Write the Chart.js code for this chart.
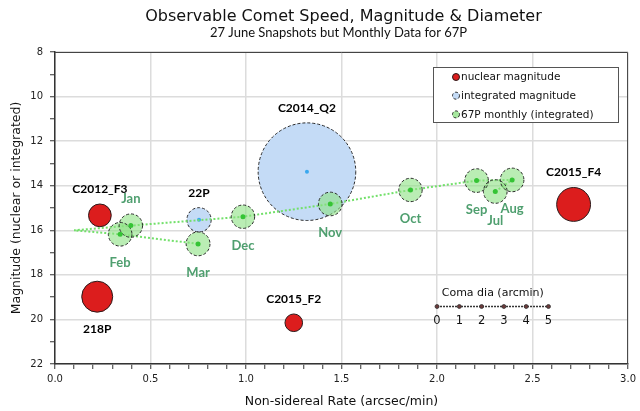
<!DOCTYPE html>
<html>
<head>
<meta charset="utf-8">
<script src="https://cdn.jsdelivr.net/npm/chart.js@4.4.1/dist/chart.umd.min.js"></script>
<style>
  html, body { margin: 0; padding: 0; background: #fff; }
  #wrap { width: 640px; height: 411px; }
</style>
</head>
<body>
<div id="wrap"><canvas id="chart" width="640" height="411"></canvas></div>
<script>
const chartTitle = 'Observable Comet Speed, Magnitude & Diameter';
const chartSubtitle = '27 June Snapshots but Monthly Data for 67P';
const xTitle = 'Non-sidereal Rate (arcsec/min)';
const yTitle = 'Magnitude (nuclear or integrated)';
const legendLabels = ['nuclear magnitude', 'integrated magnitude', '67P monthly (integrated)'];

// nuclear magnitude comets (red)
const nucNames = ['C2012_F3', '218P', 'C2015_F2', 'C2015_F4'];
const nucRate = [0.235, 0.221, 1.25, 2.715];
const nucMag = [15.33, 18.98, 20.15, 14.84];
const nucSize = [1.02, 1.39, 0.79, 1.52];
const nucLabelPos = ['above', 'below', 'above', 'above'];

// integrated magnitude comets (blue), size = coma dia in arcmin
const intNames = ['22P', 'C2014_Q2'];
const intRate = [0.754, 1.319];
const intMag = [15.53, 13.37];
const intComa = [1.09, 4.38];
const intLabelPos = ['above', 'above'];

// 67P month by month
const months = ['Jul', 'Aug', 'Sep', 'Oct', 'Nov', 'Dec', 'Jan', 'Feb', 'Mar'];
const p67Rate = [2.305, 2.393, 2.207, 1.861, 1.441, 0.984, 0.397, 0.341, 0.749];
const p67Mag = [14.26, 13.74, 13.77, 14.19, 14.82, 15.39, 15.79, 16.18, 16.61];
const p67Coma = [1.06, 1.06, 1.06, 1.05, 1.06, 1.05, 1.05, 1.06, 1.07];
const monthLabelPos = ['below', 'below', 'below', 'below', 'below', 'below', 'above', 'below', 'below'];

// dotted track of 67P (goes out to 0.1 between Jan and Feb)
const trackRate = [2.305, 2.393, 2.207, 1.861, 1.441, 0.984, 0.397, 0.10, 0.341, 0.749];
const trackMag = [14.26, 13.74, 13.77, 14.19, 14.82, 15.39, 15.79, 16.0, 16.18, 16.61];

// coma diameter key
const comaTicks = [0, 1, 2, 3, 4, 5];
const comaKeyAt = {x: 2.0, y: 19.42};

const toPts = (xs, ys, ds) => xs.map((x, i) => ({x: x, y: ys[i], d: ds ? ds[i] : 0}));

// one arcmin of coma = one magnitude step on the y axis
function comaPx(chart) {
  const y = chart.scales.y;
  const v = Math.abs(y.getPixelForValue(9) - y.getPixelForValue(8));
  return isFinite(v) ? v : 0;
}

function dashedCircle(ctx, x, y, r) {
  ctx.beginPath();
  ctx.setLineDash([3, 2]);
  ctx.lineWidth = 1;
  ctx.strokeStyle = '#2a2a2a';
  ctx.arc(x, y, r, 0, Math.PI * 2);
  ctx.stroke();
  ctx.setLineDash([]);
}

const bubbleDecor = {
  id: 'bubbleDecor',
  afterDatasetDraw(chart, args) {
    const ds = chart.data.datasets[args.index];
    if (!ds.dashed) return;
    const ctx = chart.ctx;
    ctx.save();
    args.meta.data.forEach(el => dashedCircle(ctx, el.x, el.y, el.options.radius));
    args.meta.data.forEach(el => {
      ctx.beginPath();
      ctx.fillStyle = ds.dot;
      ctx.arc(el.x, el.y, ds.dotR, 0, Math.PI * 2);
      ctx.fill();
    });
    ctx.restore();
  },
  afterDatasetsDraw(chart) {
    const ctx = chart.ctx;
    ctx.save();
    ctx.textAlign = 'center';
    ctx.textBaseline = 'middle';
    chart.data.datasets.forEach((ds, i) => {
      if (!ds.names) return;
      const meta = chart.getDatasetMeta(i);
      ctx.fillStyle = ds.nameColor;
      ctx.font = 'bold ' + ds.nameSize + 'px Lato';
      meta.data.forEach((el, j) => {
        const r = el.options.radius;
        const y = ds.namePos[j] === 'above' ? el.y - r - 15 : el.y + r + 17;
        ctx.fillText(ds.names[j], el.x, y);
      });
    });
    ctx.restore();
  }
};

const frameAndKeys = {
  id: 'frameAndKeys',
  afterDraw(chart) {
    const ctx = chart.ctx;
    const a = chart.chartArea;
    const cx = (a.left + a.right) / 2;
    ctx.save();

    // titles
    ctx.fillStyle = '#111';
    ctx.textAlign = 'center';
    ctx.textBaseline = 'middle';
    ctx.font = '16px "DejaVu Sans"';
    ctx.fillText(chartTitle, cx + 2, 17);
    ctx.font = '13px Lato';
    ctx.fillText(chartSubtitle, cx - 3, 33);

    // top and right frame
    ctx.strokeStyle = '#444';
    ctx.lineWidth = 1;
    ctx.beginPath();
    ctx.moveTo(a.left, a.top + 0.5);
    ctx.lineTo(a.right - 0.5, a.top + 0.5);
    ctx.lineTo(a.right - 0.5, a.bottom);
    ctx.stroke();

    // legend box
    const lx = 433, ly = 67, lw = 185, lh = 55;
    ctx.fillStyle = '#fff';
    ctx.fillRect(lx, ly, lw, lh);
    ctx.strokeStyle = '#555';
    ctx.strokeRect(lx + 0.5, ly + 0.5, lw, lh);
    const swatch = ['#dc1d1d', '#c4dbf6', '#a6e89e'];
    ctx.font = '10.5px "DejaVu Sans"';
    ctx.textAlign = 'left';
    legendLabels.forEach((t, i) => {
      const y = ly + 10 + i * 18.7;
      ctx.beginPath();
      ctx.fillStyle = swatch[i];
      ctx.arc(lx + 23, y, 3.5, 0, Math.PI * 2);
      ctx.fill();
      if (i === 0) {
        ctx.strokeStyle = '#2b1a1a';
        ctx.stroke();
      } else {
        dashedCircle(ctx, lx + 23, y, 3.5);
      }
      ctx.fillStyle = '#111';
      ctx.fillText(t, lx + 28, y + 0.5);
    });

    // coma diameter key
    const step = comaPx(chart);
    const kx = chart.scales.x.getPixelForValue(comaKeyAt.x);
    const ky = chart.scales.y.getPixelForValue(comaKeyAt.y);
    const kEnd = kx + step * comaTicks[comaTicks.length - 1];
    ctx.strokeStyle = '#333';
    ctx.lineWidth = 1.5;
    ctx.setLineDash([2, 1]);
    ctx.beginPath();
    ctx.moveTo(kx, ky);
    ctx.lineTo(kEnd, ky);
    ctx.stroke();
    ctx.setLineDash([]);
    ctx.textAlign = 'center';
    ctx.fillStyle = '#111';
    ctx.font = '11px "DejaVu Sans"';
    ctx.fillText('Coma dia (arcmin)', (kx + kEnd) / 2, ky - 13);
    comaTicks.forEach(t => {
      const px = kx + step * t;
      ctx.beginPath();
      ctx.fillStyle = '#6b3a3a';
      ctx.arc(px, ky, 2, 0, Math.PI * 2);
      ctx.fill();
      ctx.strokeStyle = '#333';
      ctx.lineWidth = 0.8;
      ctx.stroke();
      ctx.fillStyle = '#111';
      ctx.font = '11.5px "DejaVu Sans"';
      ctx.fillText(String(t), px, ky + 15);
    });
    ctx.restore();
  }
};

const tickFont = {family: 'DejaVu Sans', size: 10};

const chart = new Chart(document.getElementById('chart'), {
  type: 'bubble',
  data: {
    datasets: [
      {
        label: legendLabels[0],
        data: toPts(nucRate, nucMag, nucSize),
        backgroundColor: '#dc1d1d',
        borderColor: '#2b1a1a',
        borderWidth: 1,
        order: 1,
        clip: false,
        names: nucNames, namePos: nucLabelPos, nameColor: '#000', nameSize: 12
      },
      {
        label: legendLabels[2],
        data: toPts(p67Rate, p67Mag, p67Coma),
        backgroundColor: 'rgba(140,225,130,0.6)',
        borderWidth: 0,
        order: 2,
        clip: false,
        dashed: true, dot: '#35c435', dotR: 2.5,
        names: months, namePos: monthLabelPos, nameColor: '#4f9f6f', nameSize: 13
      },
      {
        type: 'line',
        data: toPts(trackRate, trackMag),
        borderColor: '#72e06a',
        borderWidth: 2,
        borderDash: [2, 2],
        pointRadius: 0,
        fill: false,
        tension: 0,
        order: 3
      },
      {
        label: legendLabels[1],
        data: toPts(intRate, intMag, intComa),
        backgroundColor: '#c4dbf6',
        borderWidth: 0,
        order: 4,
        clip: false,
        dashed: true, dot: '#3aa8ef', dotR: 2,
        names: intNames, namePos: intLabelPos, nameColor: '#000', nameSize: 12
      }
    ]
  },
  options: {
    animation: false,
    responsive: false,
    events: [],
    layout: {autoPadding: false, padding: {top: 52, right: 10, left: 0, bottom: 0}},
    plugins: {
      legend: {display: false},
      tooltip: {enabled: false}
    },
    scales: {
      x: {
        type: 'linear', min: 0, max: 3,
        afterFit: s => { s.height = 47; },
        ticks: {
          stepSize: 0.1, autoSkip: false, maxRotation: 0, padding: 4,
          font: tickFont, color: '#222',
          callback: v => (Math.round(v * 10) % 5 === 0 ? v.toFixed(1) : '')
        },
        grid: {
          color: c => (c.tick && Math.round(c.tick.value * 10) % 5 === 0 ? '#dcdcdc' : 'rgba(0,0,0,0)'),
          lineWidth: 1.5, tickColor: '#333', tickWidth: 1, tickLength: 5
        },
        border: {color: '#333', width: 1.5},
        title: {display: true, text: xTitle, color: '#111',
          font: {family: 'DejaVu Sans', size: 12.5}, padding: {top: 0, bottom: 2}}
      },
      y: {
        type: 'linear', min: 8, max: 22, reverse: true,
        afterFit: s => { s.width = 55; },
        ticks: {
          stepSize: 1, autoSkip: false, padding: 7,
          font: tickFont, color: '#222',
          callback: v => (v % 2 === 0 ? v : '')
        },
        grid: {
          color: c => (c.tick && c.tick.value % 2 === 0 ? '#dcdcdc' : 'rgba(0,0,0,0)'),
          lineWidth: 1.5, tickColor: '#333', tickWidth: 1, tickLength: 5
        },
        border: {color: '#333', width: 1.5},
        title: {display: true, text: yTitle, color: '#111',
          font: {family: 'DejaVu Sans', size: 12.5}, padding: {top: 9, bottom: 0}}
      }
    }
  },
  plugins: [bubbleDecor, frameAndKeys]
});

// bubble size: diameter in arcmin, one arcmin drawn as one magnitude step
const k = comaPx(chart);
chart.data.datasets.forEach(ds => {
  if (ds.type === 'line') return;
  ds.data.forEach(p => { p.r = p.d / 2 * k; });
});
chart.update();
</script>
</body>
</html>
